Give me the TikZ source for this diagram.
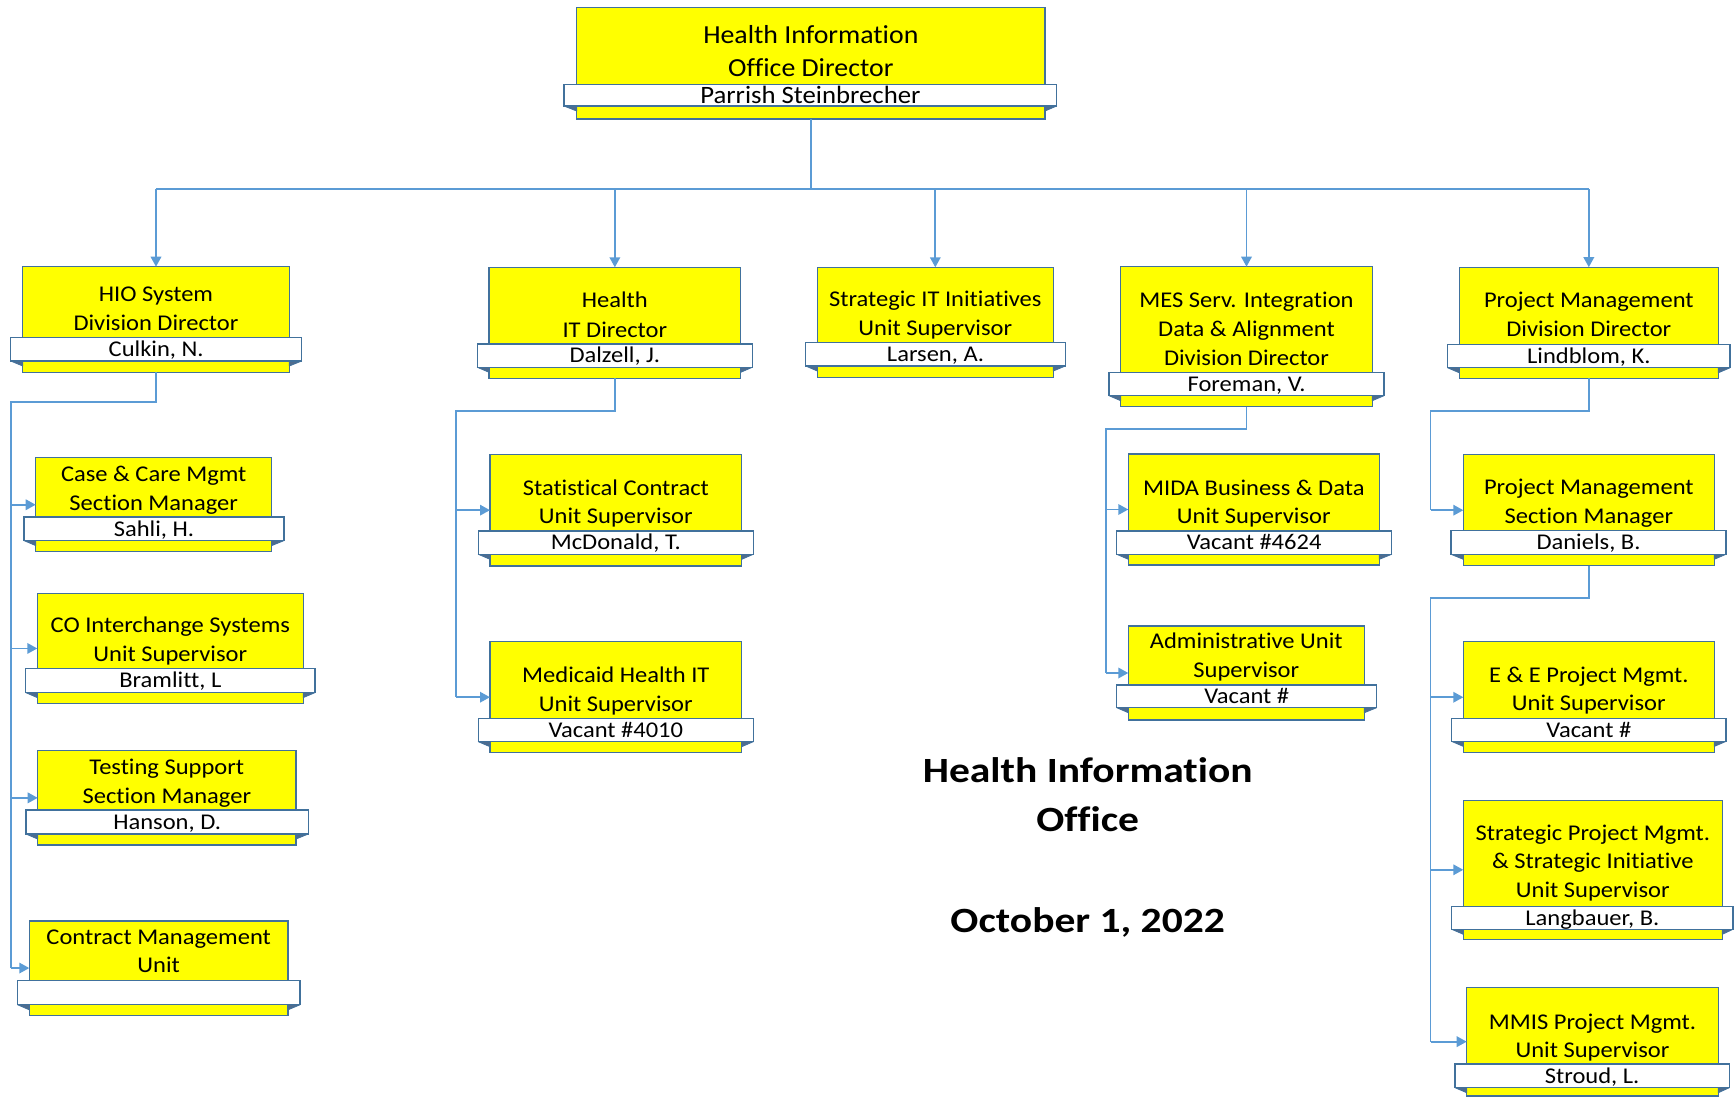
\documentclass[tikz,border=0pt]{standalone}
\usepackage{fontspec}
\setmainfont{Carlito}[FakeStretch=1.09, Ligatures=NoCommon]
\newfontfamily\topf{Carlito}[FakeStretch=1.07, Ligatures=NoCommon]
\newfontfamily\bigf{Carlito}[FakeStretch=1.17, Ligatures=NoCommon]
\usetikzlibrary{arrows.meta}
\definecolor{byel}{HTML}{FFFF00}
\definecolor{bline}{HTML}{41719C}
\definecolor{bfold}{HTML}{4F6C8E}
\definecolor{cline}{HTML}{5B9BD5}
\newcommand\Tstr{\rule{0pt}{\dimexpr0.644em+7pt\relax}}
\newcommand\Bstr{\rule[-7pt]{0pt}{7pt}}
\tikzset{
  ybox/.style={rectangle, draw=bline, fill=byel, line width=1.2pt, inner sep=0pt, outer sep=0pt},
  rbox/.style={rectangle, draw=bline, fill=white, line width=1.2pt, inner sep=0pt, outer sep=0pt},
  fold/.style={draw=bline, fill=bfold, line width=0.8pt, line join=round},
  conn/.style={draw=cline, line width=1.8pt},
  arr/.style={conn, -{Triangle[length=10pt,width=10.5pt]}},
  ttl/.style={inner sep=0pt, align=center, text=black},
  nm/.style={inner sep=0pt, text=black},
}
% #1 name, #2 xL, #3 yT, #4 xR, #5 yB, #6 rL, #7 rT, #8 rR, #9 rB
\newcommand\orgbox[9]{%
  \node[ybox, anchor=north west, minimum width={(#4)-(#2)}, minimum height={(#5)-(#3)}] (#1) at (#2,#3) {};
  \filldraw[fold] (#6,#9) -- (#2,#9) -- (#2,#9+5) -- cycle;
  \filldraw[fold] (#8,#9) -- (#4,#9) -- (#4,#9+5) -- cycle;
  \node[rbox, anchor=north west, minimum width={(#8)-(#6)}, minimum height={(#9)-(#7)}] (#1-r) at (#6,#7) {};
}
% #1 name, #2 size, #3 title y, #4 spacing, #5 title, #6 person
\newcommand\orgtxt[6]{%
  \coordinate (#1-ty) at (0,#3);
  \node[ttl, font=\fontsize{#2}{#4}\selectfont] (#1-t) at (#1.center |- #1-ty) {\Tstr #5\Bstr};
  \node[nm, font=\fontsize{#2}{#4}\selectfont] (#1-n) at (#1-r.center) {\Tstr #6\Bstr};
}
\begin{document}
\begin{tikzpicture}[x=1pt, y=-1pt]
\useasboundingbox (0,0) rectangle (1734,1097);

% boxes
\orgbox{top}{576.7}{7.3}{1045}{119}{564}{84.3}{1056.7}{106}
\coordinate (top-ty) at (0,51.5);
\node[ttl, font=\topf\fontsize{26}{33}\selectfont] (top-t) at (top.center |- top-ty) {\Tstr Health Information\\Office Director\Bstr};
\node[nm, font=\topf\fontsize{25}{33}\selectfont] (top-n) at (top-r.center) {\Tstr Parrish Steinbrecher\Bstr};

\orgbox{hio}{22.7}{266.7}{289.3}{372.3}{10.7}{337.7}{301.7}{361}
\orgtxt{hio}{22.5}{308.5}{29}{HIO System\\Division Director}{Culkin, N.}
\orgbox{ccm}{35.7}{457.8}{271.7}{551.7}{24}{516.9}{284}{540.6}
\orgtxt{ccm}{22.5}{488.4}{28.9}{Case \& Care Mgmt\\Section Manager}{Sahli, H.}
\orgbox{coi}{37.3}{593.5}{303.3}{703.4}{25.7}{668.6}{315}{692.6}
\orgtxt{coi}{22.5}{639.4}{28.8}{CO Interchange Systems\\Unit Supervisor}{Bramlitt, L}
\orgbox{tss}{37.7}{750.7}{296}{845}{26}{809.9}{308.3}{834}
\orgtxt{tss}{22.5}{781.6}{28.4}{Testing Support\\Section Manager}{Hanson, D.}
\orgbox{cmu}{29.3}{920.9}{288}{1015.2}{17.7}{980.8}{300}{1004.8}
\orgtxt{cmu}{22.5}{951.4}{27.8}{Contract Management\\Unit}{}

\orgbox{hit}{489}{267.3}{740.7}{378.3}{477.3}{344}{752.3}{367.3}
\orgtxt{hit}{22.5}{315.3}{29.3}{Health\\IT Director}{Dalzell, J.}
\orgbox{stc}{490}{454.3}{741.7}{566}{478.3}{531}{753.3}{554.3}
\orgtxt{stc}{22.5}{502.5}{28.4}{Statistical Contract\\Unit Supervisor}{McDonald, T.}
\orgbox{mhi}{490}{641.7}{741.7}{752.7}{478.3}{718.3}{753.3}{741.7}
\orgtxt{mhi}{22.5}{689.5}{29}{Medicaid Health IT\\Unit Supervisor}{Vacant \#4010}

\orgbox{sit}{817.3}{267.3}{1053.3}{377.3}{805.7}{342.7}{1065.3}{366}
\orgtxt{sit}{22.5}{313.8}{29}{Strategic IT Initiatives\\Unit Supervisor}{Larsen, A.}

\orgbox{mes}{1120.7}{266.7}{1372.3}{406.7}{1109}{372.3}{1384}{395.7}
\orgtxt{mes}{22.5}{329.3}{29.2}{MES Serv. Integration\\Data \& Alignment\\Division Director}{Foreman, V.}
\orgbox{mida}{1128.3}{454}{1379.3}{565}{1116.7}{531}{1391.7}{554.3}
\orgtxt{mida}{22.5}{502.5}{28.4}{MIDA Business \& Data\\Unit Supervisor}{Vacant \#4624}
\orgbox{adm}{1128.3}{626}{1364.3}{720}{1116.7}{685}{1376.7}{707.7}
\orgtxt{adm}{22.5}{656.2}{29}{Administrative Unit\\Supervisor}{Vacant \#}

\orgbox{pmd}{1459.3}{267.2}{1718.3}{378.2}{1447.7}{344.2}{1730}{367.8}
\orgtxt{pmd}{22.5}{315}{28.6}{Project Management\\Division Director}{Lindblom, K.}
\orgbox{pms}{1463.3}{454.7}{1714.3}{565.7}{1451}{530.8}{1726}{554.3}
\orgtxt{pms}{22.5}{502}{28.5}{Project Management\\Section Manager}{Daniels, B.}
\orgbox{ee}{1463.3}{641.8}{1714.3}{752.7}{1451.7}{718.8}{1726}{741.4}
\orgtxt{ee}{22.5}{688.9}{28.1}{E \& E Project Mgmt.\\Unit Supervisor}{Vacant \#}
\orgbox{spm}{1463.3}{800.3}{1722.3}{939.3}{1451.7}{906.7}{1733}{929.3}
\orgtxt{spm}{22.5}{861.6}{28.3}{Strategic Project Mgmt.\\\& Strategic Initiative\\Unit Supervisor}{Langbauer, B.}
\orgbox{mmis}{1466.7}{987.3}{1718.3}{1096}{1455}{1064}{1729.3}{1087.7}
\orgtxt{mmis}{22.5}{1035.9}{28.3}{MMIS Project Mgmt.\\Unit Supervisor}{Stroud, L.}

% title
\node[ttl, font=\bigf\fontsize{35.5}{49}\selectfont\bfseries] (hdr) at (1087.7,795.5) {\Tstr Health Information\\Office\Bstr};
\node[nm, font=\bigf\fontsize{35.5}{49}\selectfont\bfseries] (date) at (1087.7,920.7) {\Tstr October 1, 2022\Bstr};

% connectors
\coordinate (bus) at (810,189);
\draw[conn] (top.south) -- (top.south |- bus);
\draw[conn] (hio.north |- bus) -- (pmd.north |- bus);
\foreach \n in {hio,hit,sit,mes,pmd} \draw[arr] (\n.north |- bus) -- (\n.north);

\coordinate (k1) at (11,401.7);
\draw[conn] (hio.south) |- (k1) -- (k1 |- cmu.west);
\foreach \n in {ccm,coi,tss,cmu} \draw[arr] (k1 |- \n.west) -- (\n.west);

\coordinate (k2) at (456,410.7);
\draw[conn] (hit.south) |- (k2) -- (k2 |- mhi.west);
\foreach \n in {stc,mhi} \draw[arr] (k2 |- \n.west) -- (\n.west);

\coordinate (k4) at (1106,429);
\draw[conn] (mes.south) |- (k4) -- (k4 |- adm.west);
\foreach \n in {mida,adm} \draw[arr] (k4 |- \n.west) -- (\n.west);

\coordinate (k5) at (1430.5,410.8);
\draw[conn] (pmd.south) |- (k5) -- (k5 |- pms.west);
\draw[arr] (k5 |- pms.west) -- (pms.west);

\coordinate (k6) at (1430.5,597.8);
\draw[conn] (pms.south) |- (k6) -- (k6 |- mmis.west);
\foreach \n in {ee,spm,mmis} \draw[arr] (k6 |- \n.west) -- (\n.west);
\end{tikzpicture}
\end{document}
